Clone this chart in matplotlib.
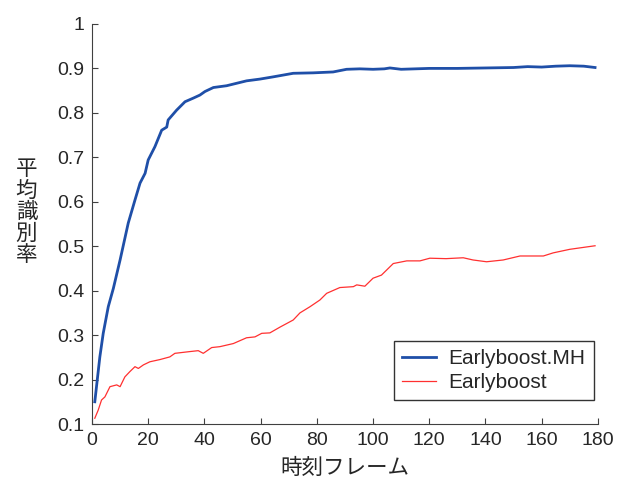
import matplotlib
matplotlib.use("Agg")
import matplotlib.pyplot as plt
from matplotlib.ticker import FuncFormatter

plt.rcParams['font.family'] = ['Liberation Sans', 'Noto Sans CJK JP', 'DejaVu Sans']

# Earlyboost.MH (blue)
mh_x = [1, 2.8, 4.0, 5.8, 7.6, 10, 12.9, 15.3, 17.1, 18.9, 20.0, 22.4, 24.8, 26.6, 27.1,
        30.1, 33.1, 36.0, 38.4, 40.2, 43.2, 47.9, 55, 59.8, 64.5, 71.6, 78.7, 85.8, 90.6,
        95.3, 100, 104, 106, 110, 120, 130, 140, 150, 155, 160, 165, 170, 175, 179]
mh_y = [0.150, 0.251, 0.304, 0.364, 0.405, 0.469, 0.552, 0.604, 0.642, 0.664, 0.694, 0.724,
        0.761, 0.768, 0.784, 0.806, 0.825, 0.833, 0.840, 0.848, 0.857, 0.861, 0.872, 0.876,
        0.881, 0.889, 0.890, 0.892, 0.898, 0.899, 0.898, 0.899, 0.901, 0.898, 0.900, 0.900,
        0.901, 0.902, 0.904, 0.903, 0.905, 0.906, 0.905, 0.902]

# Earlyboost (red)
eb_x = [1, 2.2, 3.4, 4.6, 6.4, 8.8, 10, 11.7, 13.5, 15.3, 16.5, 18.3, 20.6, 24.2, 27.7,
        29.5, 34.9, 37.8, 39.6, 42.6, 45.5, 50.3, 55, 58, 60.4, 63.3, 66.9, 71.6, 74,
        77.6, 81.1, 83.5, 88.2, 93, 94.2, 97.1, 100, 103, 107.2, 112, 116.7, 120.2, 126,
        132.1, 135.6, 140.4, 146.3, 152.3, 160.6, 164.1, 170, 179]
eb_y = [0.113, 0.131, 0.154, 0.161, 0.184, 0.188, 0.184, 0.206, 0.218, 0.229, 0.225, 0.233,
        0.240, 0.245, 0.251, 0.259, 0.263, 0.265, 0.259, 0.272, 0.274, 0.281, 0.294, 0.296,
        0.304, 0.305, 0.318, 0.334, 0.350, 0.364, 0.379, 0.394, 0.407, 0.409, 0.413, 0.410,
        0.428, 0.435, 0.461, 0.467, 0.467, 0.473, 0.472, 0.474, 0.469, 0.465, 0.469, 0.478,
        0.478, 0.485, 0.493, 0.501]

x_ticks = [0, 20, 40, 60, 80, 100, 120, 140, 160, 180]
y_ticks = [0.1, 0.2, 0.3, 0.4, 0.5, 0.6, 0.7, 0.8, 0.9, 1.0]

fig = plt.figure(figsize=(6.3, 4.79), dpi=100)
ax = fig.add_axes([0.146, 0.1148, 0.803, 0.8352])

ax.plot(mh_x, mh_y, color='#1f4fa8', lw=2.0, label='Earlyboost.MH')
ax.plot(eb_x, eb_y, color='#ff3030', lw=0.9, label='Earlyboost')

ax.set_xlim(0, 180)
ax.set_ylim(0.1, 1.0)
ax.set_xticks(x_ticks)
ax.set_yticks(y_ticks)
ax.yaxis.set_major_formatter(FuncFormatter(lambda v, p: '%g' % v))

for s in ['top', 'right']:
    ax.spines[s].set_visible(False)
for s in ['left', 'bottom']:
    ax.spines[s].set_color('#404040')
    ax.spines[s].set_linewidth(0.8)
ax.tick_params(direction='in', length=4, width=0.8, color='#404040',
               labelsize=14, labelcolor='#262626', pad=5.5)

ax.set_xlabel('時刻フレーム', fontsize=15.5, color='#262626',
              family=['Noto Sans CJK JP', 'DejaVu Sans'], labelpad=6)
fig.text(0.042, 0.557, '平\n均\n識\n別\n率', fontsize=15.5, color='#262626',
         family=['Noto Sans CJK JP', 'DejaVu Sans'], ha='center', va='center',
         linespacing=0.97)

leg = ax.legend(loc='lower right', bbox_to_anchor=(0.992, 0.059), fontsize=15,
                frameon=True, fancybox=False, edgecolor='black', handlelength=1.6,
                borderpad=0.4, labelspacing=0.22, handletextpad=0.62, borderaxespad=0)
leg.get_frame().set_linewidth(1.0)
for t in leg.get_texts():
    t.set_color('#262626')

fig.savefig('out.png', dpi=100)
